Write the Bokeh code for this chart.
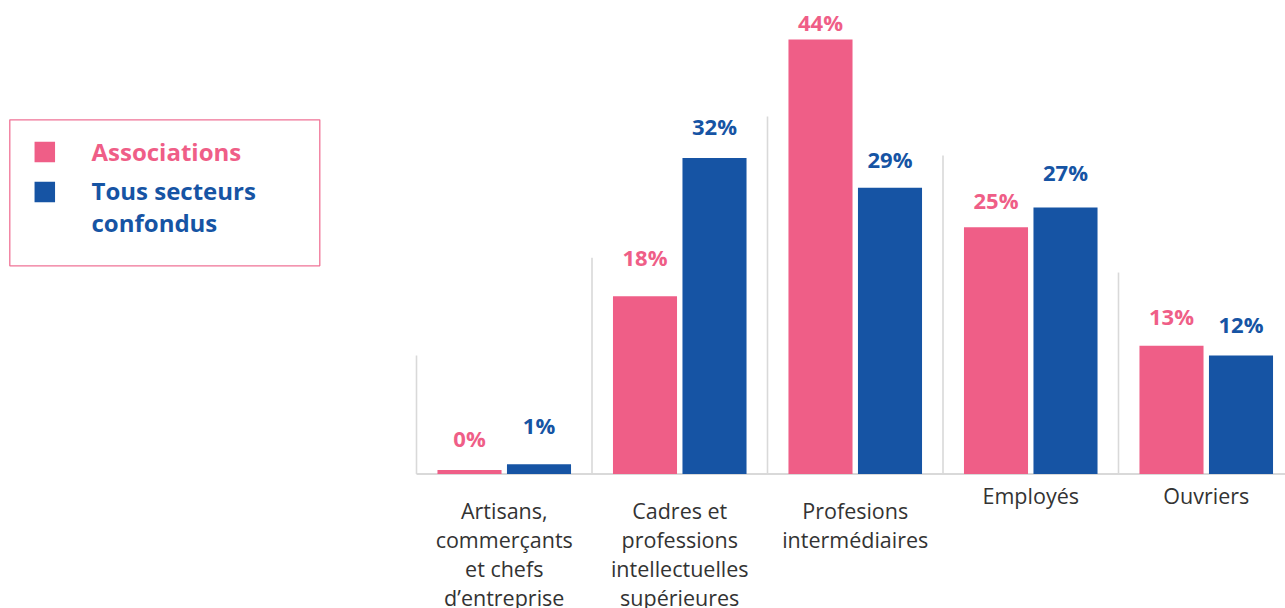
import numpy as np
from bokeh.plotting import figure
from bokeh.models import ColumnDataSource, Range1d
from bokeh.core.properties import value
from bokeh.embed import file_html
from bokeh.resources import INLINE

# ---------------- data ----------------
categories = [
    "Artisans,\ncommerçants\net chefs\nd’entreprise",
    "Cadres et\nprofessions\nintellectuelles\nsupérieures",
    "Profesions\nintermédiaires",
    "Employés",
    "Ouvriers",
]
associations = [0.4, 18, 44, 25, 13]
tous_secteurs = [1, 32, 29, 27, 12]
associations_labels = ["0%", "18%", "44%", "25%", "13%"]
tous_secteurs_labels = ["1%", "32%", "29%", "27%", "12%"]
series_names = ["Associations", "Tous secteurs\nconfondus"]
divider_heights = [12.0, 21.9, 36.2, 32.25, 20.4]

# ---------------- style ----------------
PINK = "#EF5E87"
BLUE = "#1654A4"
GREY = "#D9D9D9"
TEXT = "#333333"
FONT = value("Open Sans")
FONT_EM_HEIGHT = 1.362    # Open Sans ascent+descent, used by Bokeh's line height

W, H = 1285, 608
PX_X, X0 = 175.5, 416.0   # px per category, canvas px of category axis start
PX_Y, Y0 = 9.875, 473.5   # px per percent, canvas px of baseline

def dx(px):
    return (np.asarray(px, dtype=float) - X0) / PX_X

def dy(py):
    return (Y0 - np.asarray(py, dtype=float)) / PX_Y

p = figure(width=W, height=H,
           x_range=Range1d(-X0 / PX_X, (W - X0) / PX_X),
           y_range=Range1d(-(H - Y0) / PX_Y, Y0 / PX_Y),
           output_backend="svg", toolbar_location=None,
           x_axis_location=None, y_axis_location=None,
           min_border=0, outline_line_color=None)
p.grid.visible = False
p.background_fill_color = "white"
p.border_fill_color = "white"

n = len(categories)
idx = np.arange(n)
centers = idx + 0.5
DODGE, BAR_W = 0.198, 0.365

# baseline and dividers
p.segment(x0=[0], y0=[0], x1=[p.x_range.end], y1=[0], line_color=GREY, line_width=2)
p.segment(x0=idx, y0=np.zeros(n), x1=idx, y1=divider_heights, line_color=GREY, line_width=1.6)

# bars
p.vbar(x=centers - DODGE, top=associations, width=BAR_W, fill_color=PINK, line_color=None)
p.vbar(x=centers + DODGE, top=tous_secteurs, width=BAR_W, fill_color=BLUE, line_color=None)

# value labels (label centre offset above bar top, px)
assoc_off = [32.5, 39.5, 18, 27.5, 29.5]
tous_off = [39.5, 32.5, 28.5, 35.5, 31.5]
src_a = ColumnDataSource(dict(x=centers - DODGE, y=associations, t=associations_labels,
                              yo=[-o for o in assoc_off]))
src_t = ColumnDataSource(dict(x=centers + DODGE, y=tous_secteurs, t=tous_secteurs_labels,
                              yo=[-o for o in tous_off]))
for src, col in ((src_a, PINK), (src_t, BLUE)):
    p.text(x="x", y="y", text="t", y_offset="yo", source=src,
           text_align="center", text_baseline="middle",
           text_font=FONT, text_font_style="bold", text_font_size="22px",
           text_color=col)

# category labels
CAT_FS = 21.5
LINE_PX = 29
n_lines = [c.count("\n") + 1 for c in categories]
first_px = [510.0 if k > 1 else 495.0 for k in n_lines]
block_px = [f + (k - 1) * LINE_PX / 2 for f, k in zip(first_px, n_lines)]
p.text(x=centers, y=dy(block_px), text=categories,
       text_align="center", text_baseline="middle",
       text_font=FONT, text_font_size=f"{CAT_FS}px", text_color=TEXT,
       text_line_height=LINE_PX / (CAT_FS * FONT_EM_HEIGHT))

# legend (manual)
LEG_FS = 24
p.quad(left=[dx(9.3)], right=[dx(319.3)], top=[dy(119.3)], bottom=[dy(265.3)],
       fill_color=None, line_color="#F07396", line_width=1.3)
p.scatter(x=dx([44.3, 44.3]), y=dy([151.5, 191.5]), marker="square", size=20.5,
          fill_color=[PINK, BLUE], line_color=None)
p.text(x=dx([91, 91]), y=dy([151.0, 206.0]), text=series_names,
       text_align="left", text_baseline="middle",
       text_font=FONT, text_font_style="bold", text_font_size=f"{LEG_FS}px",
       text_color=[PINK, BLUE], text_line_height=31 / (LEG_FS * FONT_EM_HEIGHT))

open("out.html", "w").write(file_html(p, INLINE))
